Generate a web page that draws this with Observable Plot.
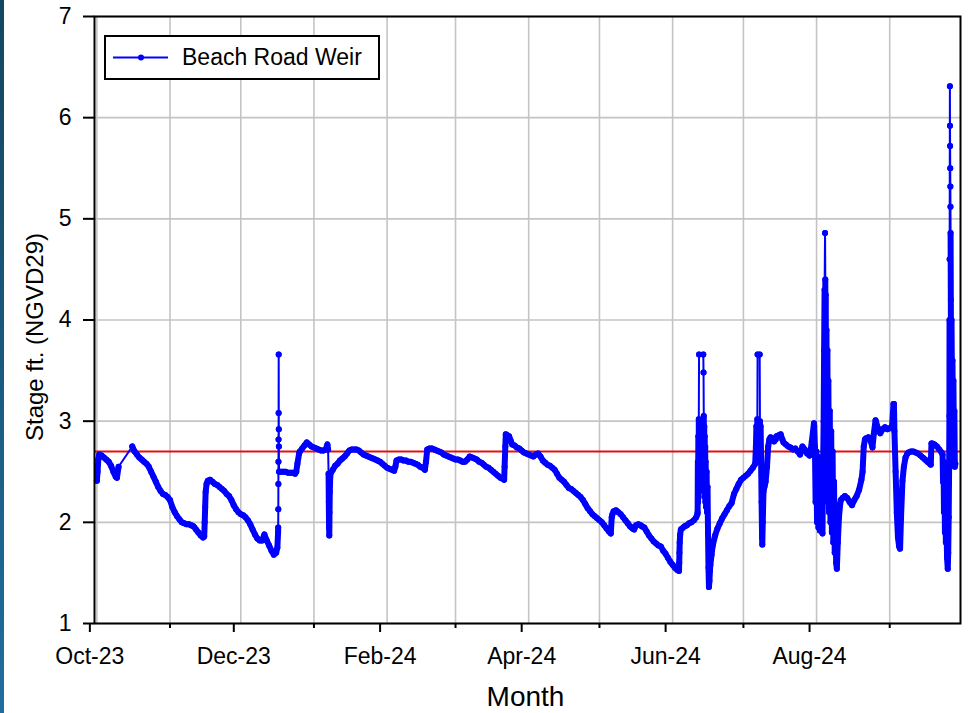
<!DOCTYPE html>
<html>
<head>
<meta charset="utf-8">
<script src="https://cdn.jsdelivr.net/npm/d3@7"></script>
<script src="https://cdn.jsdelivr.net/npm/@observablehq/plot@0.6"></script>
<style>
html, body { margin: 0; padding: 0; background: #fff; }
#wrap { position: relative; width: 970px; height: 713px; overflow: hidden; font-family: "Liberation Sans", Arial, sans-serif; color: #000; }
#strip { position: absolute; left: 0; top: 0; width: 4px; height: 713px; background: linear-gradient(#15465f, #1f6d9e); }
#legend { position: absolute; left: 104px; top: 35px; width: 272px; height: 41px; border: 2px solid #000; background: #fff; }
#legend svg { position: absolute; left: 0; top: 0; }
#legend span { position: absolute; left: 76px; top: 0; line-height: 41px; font-size: 23px; white-space: nowrap; }
#ylabel { position: absolute; left: 35px; top: 337px; transform: translate(-50%, -50%) rotate(-90deg); font-size: 24px; white-space: nowrap; line-height: 1; }
</style>
</head>
<body>
<div id="wrap">
  <div id="chart"></div>
  <div id="legend">
    <svg width="70" height="41"><line x1="7" y1="20.5" x2="62" y2="20.5" stroke="#0000ff" stroke-width="2"/><circle cx="35" cy="20.5" r="3" fill="#0000ff"/></svg>
    <span id="legendText"></span>
  </div>
  <div id="ylabel"></div>
  <div id="strip"></div>
</div>
<script>
// ---- data ----
const seriesName = "Beach Road Weir";
const yLabel = "Stage ft. (NGVD29)";
const xLabel = "Month";
const startDate = "2023-10-01";           // day 0
const domainDays = [-1, 366];              // x extent in days from start
const referenceStage = 2.7;                // red reference line
const yTicks = [1, 2, 3, 4, 5, 6, 7];
const monthTicks = ["2023-10-01","2023-11-01","2023-12-01","2024-01-01","2024-02-01","2024-03-01",
                    "2024-04-01","2024-05-01","2024-06-01","2024-07-01","2024-08-01","2024-09-01"];
const labeledMonths = ["2023-10-01","2023-12-01","2024-02-01","2024-04-01","2024-06-01","2024-08-01"];
// stretches (days) where the record is sparse and only the thin connecting line shows
const sparseRanges = [[9.2,15],[76.85,77.2],[98,98.2],[255.1,257.2],[279.9,281.0],[308.4,308.7],[361.35,361.8]];

// days since startDate
const days = [
  0,0.3,0.6,1,2,3,4,5,6,7,
  8,8.5,9.2,15,16,17,18,19,20,21,
  22,23,24,25,26,27,28,29,30,31,
  32,33,34,35,36,37,38,39,40,41,
  42,43,44,45,45.5,45.7,45.9,46.1,46.5,47,
  48,49,50,51,52,53,54,55,56,57,
  58,59,60,61,62,63,64,65,66,67,
  68,69,70,71,72,73,74,75,76,76.5,
  76.8,76.85,76.9,76.93,76.96,77.0,77.03,77.06,77.1,77.13,
  77.2,
  78,79,80,81,82,83,84,84.5,85,85.7,
  86,87,88,89,90,91,92,93,94,95,
  96,97,97.7,98,98.2,98.3,98.4,98.5,98.6,98.7,
  98.9,99,100,101,102,103,104,105,106,107,
  108,109,110,111,112,113,114,115,116,117,
  118,119,120,121,122,123,124,125,126,126.5,
  127,128,129,130,131,132,133,134,135,136,
  137,138,139,139.5,140,141,142,143,144,145,
  146,147,148,149,150,151,152,153,154,155,
  156,157,158,159,160,161,
  162,163,164,165,166,167,168,169,170,171,
  172,172.6,172.8,173.1,173.3,174,174.7,175.5,176,177,
  178,179,180,181,182,183,184,185,186,187,
  188,189,190,191,192,193,194,195,196,197,
  198,199,200,201,202,203,204,205,206,207,
  208,209,210,211,212,213,214,215,216,217,
  217.8,218.2,218.5,219,220,221,222,223,224,225,
  226,227,227.7,228.5,229.5,230.5,231,232,233,234,
  235,236,237,238,239,240,241,242,243,244,
  245,246,246.7,246.8,246.9,247,247.2,247.5,248,249,
  250,251,252,253,254,254.5,
  254.6,254.7,254.8,254.9,255.0,255.1,255.2,257.0,257.1,257.2,
  257.3,257.4,257.5,257.6,257.7,257.8,257.9,258.0,258.2,258.4,
  258.6,258.8,259.0,259.2,259.4,259.6,259.8,260,260.5,261,
  262,263,264,265,266,267,268,269,270,271,
  272,273,274,275,276,277,278,279,279.3,279.5,
  279.7,279.9,280.0,280.9,281.0,281.1,281.3,281.5,281.7,281.9,
  282.0,282.2,282.5,283,283.4,284,284.5,285,285.5,286,
  287,287.7,288,289,289.8,290.5,291,292,293,294,
  295,296,297,298,298.5,299,300,301,302,302.5,
  303,303.9,
  304,304.3,304.6,304.9,305.2,305.5,305.8,306.1,306.4,306.7,
  307.0,307.5,307.8,308.0,308.2,308.4,308.6,308.7,308.8,308.9,
  309.0,309.2,309.4,309.6,309.8,310.0,310.3,310.6,310.9,311.2,
  311.5,311.8,312.1,312.4,312.7,313.0,313.3,313.6,314,314.5,
  315,315.3,316,317,318,319,320,321,322,323,
  324,324.5,325,325.5,326,327,328,328.7,329.3,330,
  331,332,333,334,335,336,337,337.6,337.8,338,
  338.5,339,339.5,340,340.4,340.8,341.4,342,342.7,343.5,
  344,345,346,347,348,349,350,351,352,353,
  353.4,353.7,354,355,356,357,358,358.4,358.6,358.8,
  359.0,359.2,359.4,359.6,359.8,360.0,360.3,360.6,360.8,361.0,
  361.2,361.3,361.35,361.4,361.5,361.55,361.6,361.65,361.7,361.75,
  361.8,361.9,362.0,362.2,
  362.4,362.6,362.8,363.0,363.2,363.4,363.6,363.8
];

// stage, ft NGVD29
const stage = [
  2.41,2.50,2.62,2.67,2.66,2.64,2.62,2.60,2.56,2.50,
  2.45,2.44,2.55,2.75,2.70,2.67,2.64,2.62,2.60,2.58,
  2.55,2.50,2.45,2.40,2.35,2.31,2.28,2.27,2.25,2.22,
  2.15,2.10,2.06,2.03,2.00,1.99,1.98,1.98,1.97,1.96,
  1.93,1.90,1.87,1.85,1.86,2.00,2.15,2.30,2.38,2.41,
  2.42,2.40,2.38,2.37,2.35,2.33,2.31,2.28,2.26,2.22,
  2.17,2.13,2.10,2.08,2.07,2.05,2.02,1.98,1.93,1.88,
  1.84,1.82,1.82,1.88,1.82,1.77,1.72,1.68,1.70,1.75,
  1.90,1.95,2.13,2.38,2.60,2.82,3.08,3.66,2.92,2.75,
  2.50,
  2.50,2.50,2.50,2.49,2.49,2.49,2.48,2.50,2.58,2.68,
  2.70,2.73,2.76,2.79,2.77,2.75,2.74,2.73,2.72,2.71,
  2.71,2.72,2.77,2.72,2.48,2.20,1.95,1.87,2.10,2.30,
  2.45,2.48,2.52,2.56,2.58,2.61,2.63,2.65,2.68,2.71,
  2.72,2.72,2.72,2.71,2.69,2.67,2.66,2.65,2.64,2.63,
  2.62,2.61,2.60,2.58,2.56,2.54,2.53,2.52,2.51,2.55,
  2.61,2.62,2.62,2.61,2.61,2.60,2.60,2.59,2.58,2.57,
  2.55,2.54,2.52,2.60,2.72,2.73,2.73,2.72,2.71,2.70,
  2.69,2.67,2.66,2.65,2.64,2.63,2.62,2.62,2.61,2.60,
  2.60,2.62,2.65,2.64,2.63,2.62,
  2.60,2.59,2.57,2.55,2.54,2.52,2.50,2.48,2.46,2.44,
  2.43,2.42,2.55,2.75,2.87,2.86,2.85,2.80,2.77,2.76,
  2.74,2.73,2.71,2.69,2.68,2.67,2.66,2.65,2.67,2.68,
  2.65,2.61,2.59,2.57,2.56,2.54,2.52,2.48,2.44,2.42,
  2.40,2.37,2.34,2.33,2.31,2.29,2.27,2.25,2.22,2.18,
  2.14,2.11,2.08,2.06,2.04,2.02,2.00,1.97,1.94,1.91,
  1.89,2.05,2.08,2.11,2.12,2.10,2.08,2.05,2.02,1.99,
  1.96,1.94,1.93,1.97,1.98,1.97,1.96,1.95,1.91,1.87,
  1.84,1.81,1.79,1.77,1.76,1.72,1.69,1.65,1.61,1.58,
  1.55,1.53,1.52,1.60,1.70,1.80,1.88,1.93,1.94,1.96,
  1.97,1.99,2.00,2.02,2.05,2.08,
  2.10,2.60,2.20,2.85,2.30,3.02,3.66,3.66,3.48,3.05,
  2.40,2.95,2.25,2.85,2.35,2.75,2.20,2.60,2.15,2.50,
  2.10,2.35,1.90,1.55,1.36,1.42,1.52,1.58,1.68,1.77,
  1.87,1.94,1.99,2.04,2.08,2.12,2.16,2.19,2.28,2.33,
  2.38,2.42,2.44,2.46,2.48,2.51,2.54,2.58,2.75,2.95,
  2.70,3.02,3.66,3.66,3.00,2.80,2.95,2.60,2.20,1.85,
  1.78,2.00,2.30,2.36,2.40,2.55,2.75,2.82,2.84,2.83,
  2.80,2.82,2.85,2.86,2.87,2.82,2.79,2.77,2.75,2.74,
  2.72,2.73,2.70,2.67,2.70,2.75,2.72,2.68,2.66,2.71,
  2.80,2.98,
  2.95,2.75,2.20,2.70,2.00,2.65,1.95,2.50,1.92,2.40,
  1.95,1.89,2.60,3.00,3.70,4.30,4.86,4.40,3.60,4.25,
  2.80,3.90,2.40,3.70,2.20,3.40,2.10,3.10,2.00,2.90,
  1.90,2.70,1.80,2.40,1.70,2.10,1.60,1.54,1.80,2.05,
  2.18,2.22,2.24,2.26,2.24,2.20,2.17,2.22,2.26,2.32,
  2.42,2.50,2.75,2.82,2.83,2.84,2.80,2.74,2.88,3.01,
  2.93,2.88,2.92,2.94,2.92,2.93,2.95,3.17,3.17,2.90,
  2.50,2.10,1.85,1.76,1.74,2.05,2.41,2.55,2.64,2.68,
  2.69,2.70,2.70,2.69,2.68,2.66,2.64,2.62,2.60,2.58,
  2.57,2.78,2.78,2.77,2.75,2.72,2.69,2.67,2.40,2.60,
  2.10,2.50,1.90,2.30,1.80,2.10,1.65,1.54,1.70,2.05,
  2.60,3.05,4.00,4.60,6.31,5.92,5.72,5.50,5.32,5.12,
  4.86,4.20,3.50,4.00,
  3.30,3.60,3.00,3.40,2.80,3.10,2.55,2.58
];

// ---- build ----
const t0 = new Date(startDate).getTime();
const toDate = d => new Date(t0 + d * 86400000);
const n = Math.min(days.length, stage.length);
const data = d3.range(n).map(i => ({day: days[i], date: toDate(days[i]), stage: stage[i]}));

// dense band: break the heavy line wherever the record is sparse
const rangeOf = d => sparseRanges.findIndex(([a, b]) => d >= a && d <= b);
const band = [];
data.forEach((p, i) => {
  if (i > 0) {
    const r0 = rangeOf(data[i - 1].day), r1 = rangeOf(p.day);
    if (r0 !== -1 && r0 === r1) band.push({date: p.date, stage: NaN});
  }
  band.push(p);
});

const allMonths = monthTicks.map(s => new Date(s));
const majorMonths = labeledMonths.map(s => new Date(s));
const minorMonths = monthTicks.filter(s => !labeledMonths.includes(s)).map(s => new Date(s));
const blue = "#0000ff";
const fmt = d3.utcFormat("%b-%y");

const chart = Plot.plot({
  width: 970,
  height: 713,
  marginLeft: 94,
  marginRight: 10,
  marginTop: 16,
  marginBottom: 90,
  style: {fontFamily: "'Liberation Sans', Arial, sans-serif", fontSize: "23px", color: "#000", background: "#fff", overflow: "visible"},
  x: {type: "utc", domain: domainDays.map(toDate)},
  y: {domain: [yTicks[0], yTicks[yTicks.length - 1]]},
  marks: [
    Plot.gridX(allMonths, {stroke: "#c4c4c4", strokeOpacity: 1, strokeWidth: 1.6}),
    Plot.gridY(yTicks, {stroke: "#c4c4c4", strokeOpacity: 1, strokeWidth: 1.6}),
    Plot.ruleY([referenceStage], {stroke: "#e31010", strokeWidth: 2}),
    Plot.line(band, {x: "date", y: "stage", stroke: blue, strokeWidth: 6, strokeLinejoin: "round", strokeLinecap: "round"}),
    Plot.line(data, {x: "date", y: "stage", stroke: blue, strokeWidth: 2}),
    Plot.dot(data, {x: "date", y: "stage", r: 3, fill: blue, stroke: "none"}),
    Plot.frame({stroke: "#000", strokeWidth: 2}),
    Plot.axisY(yTicks, {tickSize: 11, tickPadding: 12, tickFormat: d3.format("d"), fontSize: 23, label: null, strokeWidth: 2}),
    Plot.axisX(minorMonths, {tickSize: 5, tickFormat: () => "", label: null, strokeWidth: 2}),
    Plot.axisX(majorMonths, {tickSize: 9, tickPadding: 15, tickFormat: fmt, label: null, dx: -7, fontSize: 23, strokeWidth: 2}),
    Plot.text([xLabel], {text: d => d, frameAnchor: "bottom", dx: -2, dy: 82, fontSize: 28, fill: "#000"})
  ]
});
document.getElementById("chart").appendChild(chart);
document.getElementById("legendText").textContent = seriesName;
document.getElementById("ylabel").textContent = yLabel;
</script>
</body>
</html>
